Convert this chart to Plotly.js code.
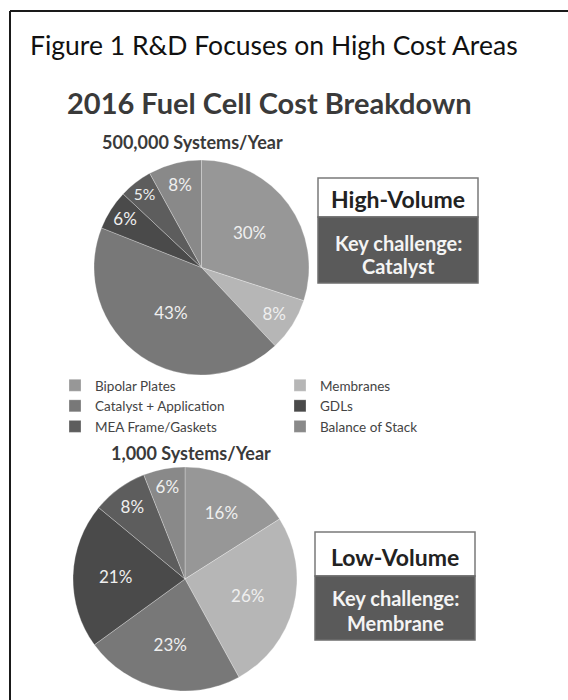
<!DOCTYPE html>
<html>
<head>
<meta charset="utf-8">
<script src="https://cdn.plot.ly/plotly-3.0.1.min.js"></script>
<style>html,body{margin:0;padding:0;background:#fff;}#chart{width:568px;height:700px;}</style>
</head>
<body>
<div id="chart"></div>
<script>
// ---- data ----
const categories = ["Bipolar Plates", "Membranes", "Catalyst + Application", "GDLs", "MEA Frame/Gaskets", "Balance of Stack"];
const highVolumeShares = [30, 8, 43, 6, 5, 8];   // 500,000 systems/year
const lowVolumeShares  = [16, 26, 23, 21, 8, 6]; // 1,000 systems/year
const sliceColors = ["#979797", "#b6b6b6", "#787878", "#4a4a4a", "#5d5d5d", "#898989"];
const figureTitle = "Figure 1 R&D Focuses on High Cost Areas";
const chartTitle = "2016 Fuel Cell Cost Breakdown";
const highLabel = "500,000 Systems/Year";
const lowLabel = "1,000 Systems/Year";

const W = 568, H = 700;
const px = x => x / W;
const py = y => 1 - y / H;
const FONT = "Lato, 'Open Sans', sans-serif";

function pieTrace(values, x0, x1, y0, y1, showlegend) {
  return {
    type: "pie",
    labels: categories,
    values: values,
    sort: false,
    direction: "clockwise",
    rotation: 0,
    marker: { colors: sliceColors, line: { color: "rgba(255,255,255,0.35)", width: 0.8 } },
    texttemplate: "%{value}%",
    textposition: "inside",
    insidetextorientation: "horizontal",
    textfont: { family: FONT, size: 17, color: "#efefef" },
    domain: { x: [px(x0), px(x1)], y: [py(y1), py(y0)] },
    showlegend: showlegend,
    hoverinfo: "label+percent"
  };
}

const data = [
  pieTrace(highVolumeShares, 94, 309, 160, 375, true),
  pieTrace(lowVolumeShares, 73, 297, 467, 691, false)
];

function ann(text, x, y, size, color, bold, anchor) {
  return {
    text: bold ? "<b>" + text + "</b>" : text,
    xref: "paper", yref: "paper", x: px(x), y: py(y),
    xanchor: anchor || "center", yanchor: "middle",
    showarrow: false,
    font: { family: FONT, size: size, color: color }
  };
}

const annotations = [
  ann(figureTitle, 28, 45, 26.5, "#111", false, "left"),
  ann(chartTitle, 269, 103, 29, "#3a3a3a", true),
  ann(highLabel, 192, 142, 18, "#3a3a3a", true),
  ann(lowLabel, 191, 453, 18, "#3a3a3a", true),
  ann("High-Volume", 398, 199, 23, "#222", true),
  ann("Key challenge:", 398, 243, 20, "#f4f4f4", true),
  ann("Catalyst", 398, 266, 20, "#f4f4f4", true),
  ann("Low-Volume", 395, 557, 23, "#222", true),
  ann("Key challenge:", 395, 598, 20, "#f4f4f4", true),
  ann("Membrane", 395, 623, 20, "#f4f4f4", true)
];

const shapes = [
  // outer figure frame (left and top visible)
  { type: "line", xref: "paper", yref: "paper", x0: px(10), x1: px(10), y0: -0.05, y1: py(11), line: { color: "#1a1a1a", width: 2 } },
  { type: "line", xref: "paper", yref: "paper", x0: px(10), x1: 1.05, y0: py(11), y1: py(11), line: { color: "#1a1a1a", width: 2 } },
  // High-Volume box
  { type: "rect", xref: "paper", yref: "paper", x0: px(318), x1: px(478), y0: py(217), y1: py(178), fillcolor: "#ffffff", line: { color: "#7a7a7a", width: 1.5 } },
  { type: "rect", xref: "paper", yref: "paper", x0: px(318), x1: px(478), y0: py(283), y1: py(217), fillcolor: "#5a5a5a", line: { color: "#6e6e6e", width: 1.5 } },
  // Low-Volume box
  { type: "rect", xref: "paper", yref: "paper", x0: px(315), x1: px(475), y0: py(576), y1: py(532), fillcolor: "#ffffff", line: { color: "#7a7a7a", width: 1.5 } },
  { type: "rect", xref: "paper", yref: "paper", x0: px(315), x1: px(475), y0: py(640), y1: py(576), fillcolor: "#5a5a5a", line: { color: "#6e6e6e", width: 1.5 } }
];

const layout = {
  width: W, height: H,
  margin: { l: 0, r: 0, t: 0, b: 0 },
  paper_bgcolor: "#ffffff",
  plot_bgcolor: "#ffffff",
  showlegend: true,
  legend: {
    orientation: "h",
    x: px(55), xanchor: "left",
    y: py(370), yanchor: "top",
    entrywidth: 180, entrywidthmode: "pixels",
    font: { family: FONT, size: 13.5, color: "#444" },
    itemclick: false, itemdoubleclick: false,
    bgcolor: "rgba(0,0,0,0)",
    tracegroupgap: 0
  },
  annotations: annotations,
  shapes: shapes
};

Plotly.newPlot("chart", data, layout, { displayModeBar: false, staticPlot: true });
</script>
</body>
</html>
